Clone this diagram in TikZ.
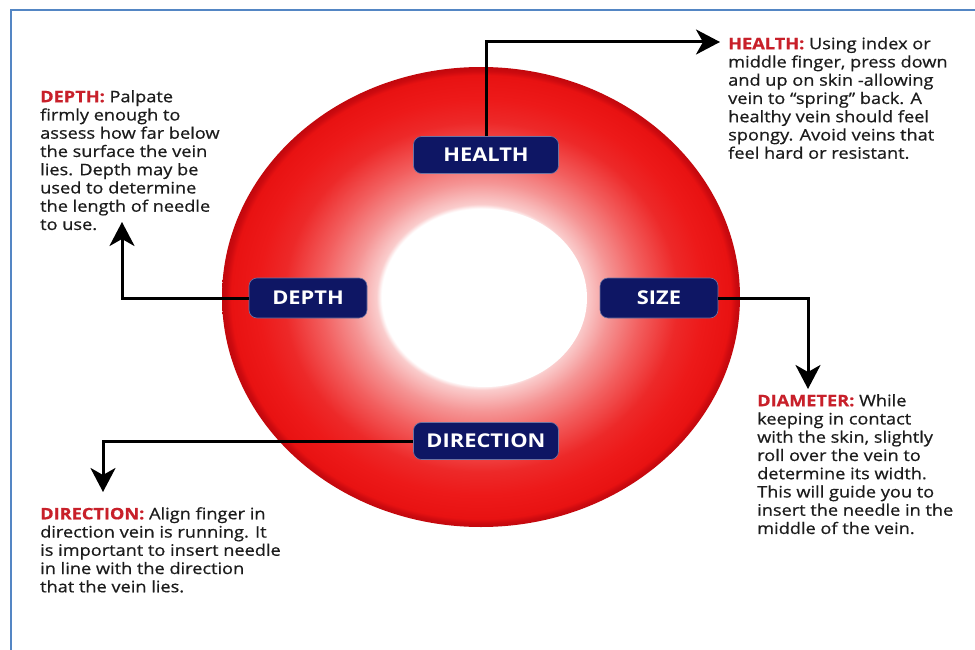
\documentclass[tikz,border=0pt]{standalone}
\usepackage{fontspec}
\usetikzlibrary{arrows.meta,shapes.geometric}
\newfontfamily\bodyfont[FakeStretch=1.15,FakeBold=0.6]{Open Sans}
\newfontfamily\boxfont[FakeStretch=1.15]{Open Sans}
\definecolor{navybox}{RGB}{14,22,100}
\definecolor{lblred}{RGB}{200,32,42}
\definecolor{frameblue}{RGB}{84,134,196}
\definecolor{txt}{RGB}{28,28,28}
\pgfdeclareradialshading{ringshade}{\pgfpoint{0bp}{0bp}}{%
rgb(0bp)=(1,1,1);rgb(9.6bp)=(1,1,1);rgb(10.1bp)=(0.98,0.80,0.80);%
rgb(12.5bp)=(0.96,0.58,0.58);rgb(15.5bp)=(0.95,0.37,0.37);rgb(19bp)=(0.93,0.16,0.16);%
rgb(21.5bp)=(0.93,0.1,0.1);rgb(24.1bp)=(0.91,0.07,0.07);rgb(24.6bp)=(0.80,0.04,0.06);rgb(25bp)=(0.76,0.03,0.05);%
rgb(50bp)=(0.76,0.03,0.05)}
\tikzset{
  boxlbl/.style={rectangle, rounded corners=8pt, fill=navybox, draw=navybox!60!white, line width=0.6pt,
    text=white, font=\boxfont\bfseries\fontsize{19}{21}\selectfont, inner sep=0pt},
  desc/.style={anchor=north west, align=left, inner sep=0pt, text=txt,
    font=\bodyfont\fontsize{15.8}{18.25}\selectfont},
  arr/.style={line width=3pt, draw=black, -{Stealth[length=24pt,width=25pt,inset=7pt]}},
}
\begin{document}
\begin{tikzpicture}[x=1pt,y=-1pt]
\useasboundingbox (0,0) rectangle (975,650);
\fill[white] (0,0) rectangle (975,650);
\draw[frameblue, line width=2.4pt] (11,10) rectangle (995,670);
% ring
\node[ellipse, minimum width=518pt, minimum height=460pt, inner sep=0pt, shading=ringshade] (ring) at (481,297) {};
\node[ellipse, minimum width=204pt, minimum height=178pt, inner sep=0pt, fill=white] (hole) at (485,298) {};
% boxes
\node[boxlbl, minimum width=145pt, minimum height=37pt] (health) at (486,155) {HEALTH};
\node[boxlbl, minimum width=118pt, minimum height=40pt] (depth) at (308,298) {DEPTH};
\node[boxlbl, minimum width=118pt, minimum height=40pt] (size) at (659,298) {SIZE};
\node[boxlbl, minimum width=145pt, minimum height=37pt] (direction) at (486,441) {DIRECTION};
% texts
\node[desc] (depthtxt) at (40,90) {{\bfseries\color{lblred}DEPTH:} Palpate\\firmly enough to\\assess how far below\\the surface the vein\\lies. Depth may be\\used to determine\\the length of needle\\to use.};
\node[desc] (healthtxt) at (728,37) {{\bfseries\color{lblred}HEALTH:} Using index or\\middle finger, press down\\and up on skin -allowing\\vein to “spring” back. A\\healthy vein should feel\\spongy. Avoid veins that\\feel hard or resistant.};
\node[desc] (diamtxt) at (757,394) {{\bfseries\color{lblred}DIAMETER:} While\\keeping in contact\\with the skin, slightly\\roll over the vein to\\determine its width.\\This will guide you to\\insert the needle in the\\middle of the vein.};
\node[desc] (dirtxt) at (40,507) {{\bfseries\color{lblred}DIRECTION:} Align finger in\\direction vein is running. It\\is important to insert needle\\in line with the direction\\that the vein lies.};
% arrow ends
\coordinate (hend) at (720,42);
\coordinate (dend) at (122,222);
\coordinate (send) at (808,389);
\coordinate (rend) at (103,492);
\draw[arr] (health.north) |- (hend);
\draw[arr] (depth.west) -| (dend);
\draw[arr] (size.east) -| (send);
\draw[arr] (direction.west) -| (rend);
\end{tikzpicture}
\end{document}
